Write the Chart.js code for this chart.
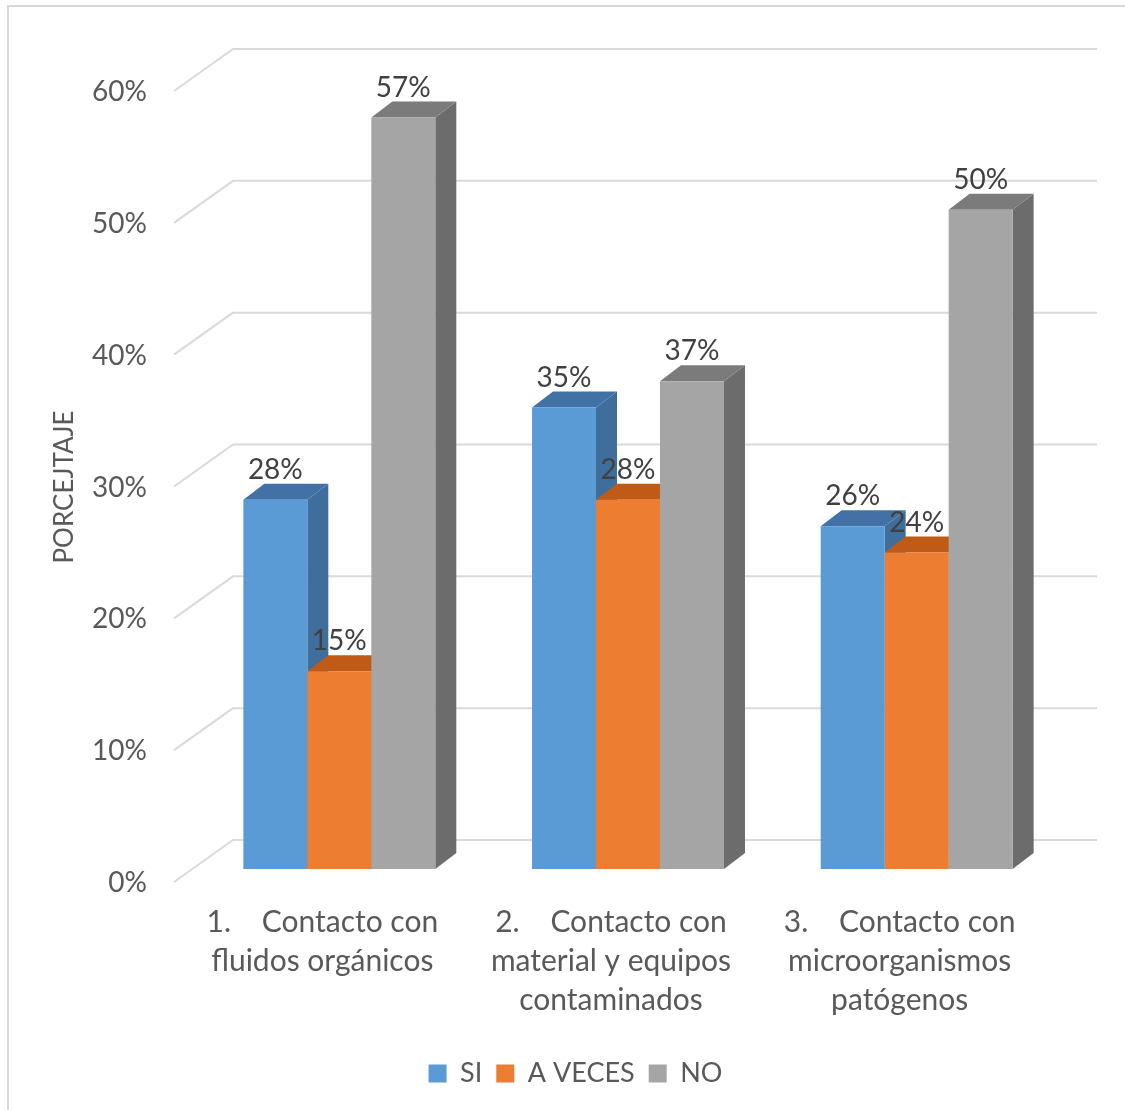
<!DOCTYPE html>
<html>
<head>
<meta charset="utf-8">
<script src="https://cdn.jsdelivr.net/npm/chart.js@4.4.0/dist/chart.umd.min.js"></script>
<style>
  html, body { margin: 0; padding: 0; background: #fff; overflow: hidden; }
  #wrap { width: 1125px; height: 1110px; position: relative; }
</style>
</head>
<body>
<div id="wrap"><canvas id="c" width="1125" height="1110"></canvas></div>
<script>
// Categories (multi-line labels) and series values, in percent
const categories = [
  ['1.    Contacto con', 'fluidos orgánicos'],
  ['2.    Contacto con', 'material y equipos', 'contaminados'],
  ['3.    Contacto con', 'microorganismos', 'patógenos']
];
const seriesNames = ['SI', 'A VECES', 'NO'];
const siValues = [28, 35, 26];
const aVecesValues = [15, 28, 24];
const noValues = [57, 37, 50];
const yTickValues = [0, 10, 20, 30, 40, 50, 60];
const yAxisTitle = 'PORCEJTAJE';

// Face colours for the extruded bars: front, side, top
const frontColors = ['#5B9BD5', '#ED7D31', '#A5A5A5'];
const sideColors = ['#3F6E9C', '#B0561B', '#6C6C6C'];
const topColors = ['#4272A5', '#BF5B17', '#7B7B7B'];

// Oblique depth of each bar box
const DEPTH_X = 21, DEPTH_Y = 16;

const FONT = 'Lato';
const TEXT = '#595959';

const scenePlugin = {
  id: 'scene',
  beforeDraw(chart) {
    const ctx = chart.ctx;
    ctx.save();
    ctx.fillStyle = '#fff';
    ctx.fillRect(0, 0, chart.width, chart.height);
    // outer frame (left and top edges)
    ctx.strokeStyle = '#D9D9D9';
    ctx.lineWidth = 2;
    ctx.beginPath();
    ctx.moveTo(8, chart.height);
    ctx.lineTo(8, 6);
    ctx.lineTo(chart.width, 6);
    ctx.stroke();
    ctx.restore();
  },
  beforeDatasetsDraw(chart) {
    const ctx = chart.ctx;
    const y = chart.scales.y;
    const area = chart.chartArea;
    // side wall and back wall grid lines
    ctx.save();
    ctx.strokeStyle = '#DADADA';
    ctx.lineWidth = 2;
    ctx.lineJoin = 'round';
    yTickValues.forEach(v => {
      const p = y.getPixelForValue(v);
      ctx.beginPath();
      ctx.moveTo(area.left - 21, p + 13);
      ctx.lineTo(area.left + 38, p - 29);
      ctx.lineTo(area.right + 36, p - 29);
      ctx.stroke();
    });
    // side and top faces, left to right so nearer faces overlap correctly
    const boxes = [];
    chart.data.datasets.forEach((ds, d) => {
      chart.getDatasetMeta(d).data.forEach(bar => boxes.push({ bar, d }));
    });
    boxes.sort((a, b) => a.bar.x - b.bar.x);
    boxes.forEach(({ bar, d }) => {
      const half = bar.width / 2;
      const xl = bar.x - half, xr = bar.x + half;
      const top = bar.y, base = bar.base;
      ctx.fillStyle = sideColors[d];
      ctx.beginPath();
      ctx.moveTo(xr, top);
      ctx.lineTo(xr + DEPTH_X, top - DEPTH_Y);
      ctx.lineTo(xr + DEPTH_X, base - DEPTH_Y);
      ctx.lineTo(xr, base);
      ctx.closePath();
      ctx.fill();
      ctx.fillStyle = topColors[d];
      ctx.beginPath();
      ctx.moveTo(xl, top);
      ctx.lineTo(xl + DEPTH_X, top - DEPTH_Y);
      ctx.lineTo(xr + DEPTH_X, top - DEPTH_Y);
      ctx.lineTo(xr, top);
      ctx.closePath();
      ctx.fill();
    });
    ctx.restore();
  },
  afterDatasetsDraw(chart) {
    const ctx = chart.ctx;
    ctx.save();
    ctx.font = '28px ' + FONT;
    ctx.fillStyle = '#404040';
    ctx.textAlign = 'center';
    ctx.textBaseline = 'middle';
    chart.data.datasets.forEach((ds, d) => {
      chart.getDatasetMeta(d).data.forEach((bar, i) => {
        ctx.fillText(ds.data[i] + '%', bar.x, bar.y - 30);
      });
    });
    ctx.restore();
  },
  afterDraw(chart) {
    const ctx = chart.ctx;
    ctx.save();
    ctx.font = '26px ' + FONT;
    ctx.fillStyle = TEXT;
    ctx.textAlign = 'center';
    ctx.textBaseline = 'middle';
    ctx.translate(65, 487);
    ctx.rotate(-Math.PI / 2);
    ctx.fillText(yAxisTitle, 0, 0);
    ctx.restore();
  }
};

function build() {
  Chart.defaults.font.family = FONT;
  Chart.defaults.color = TEXT;
  new Chart(document.getElementById('c'), {
    type: 'bar',
    data: {
      labels: categories,
      datasets: [
        { label: seriesNames[0], data: siValues, backgroundColor: frontColors[0] },
        { label: seriesNames[1], data: aVecesValues, backgroundColor: frontColors[1] },
        { label: seriesNames[2], data: noValues, backgroundColor: frontColors[2] }
      ].map(ds => Object.assign(ds, { borderWidth: 0, categoryPercentage: 0.665, barPercentage: 1 }))
    },
    options: {
      responsive: false,
      animation: false,
      events: [],
      layout: { padding: { left: 90, right: 64, top: 78, bottom: 13 } },
      plugins: {
        legend: {
          position: 'bottom',
          labels: {
            boxWidth: 18, boxHeight: 18, padding: 14,
            color: TEXT, font: { size: 27 }
          }
        },
        tooltip: { enabled: false }
      },
      scales: {
        x: {
          grid: { display: false, drawTicks: false },
          border: { display: false },
          ticks: {
            color: TEXT, font: { size: 30, lineHeight: 1.3 },
            padding: 34, labelOffset: -17, maxRotation: 0, autoSkip: false
          },
          afterFit(scale) { scale.height = 177; }
        },
        y: {
          min: 0, max: 60,
          grid: { display: false, drawTicks: false },
          border: { display: false },
          afterBuildTicks(scale) { scale.ticks = yTickValues.map(v => ({ value: v })); },
          ticks: {
            color: TEXT, font: { size: 28 }, padding: 48, labelOffset: 14,
            callback: v => v + '%'
          },
          afterFit(scale) { scale.width = 105; }
        }
      }
    },
    plugins: [scenePlugin]
  });
}

if (document.fonts && document.fonts.load) {
  Promise.all([
    document.fonts.load('28px Lato'),
    document.fonts.load('30px Lato')
  ]).then(build, build);
} else {
  build();
}
</script>
</body>
</html>
